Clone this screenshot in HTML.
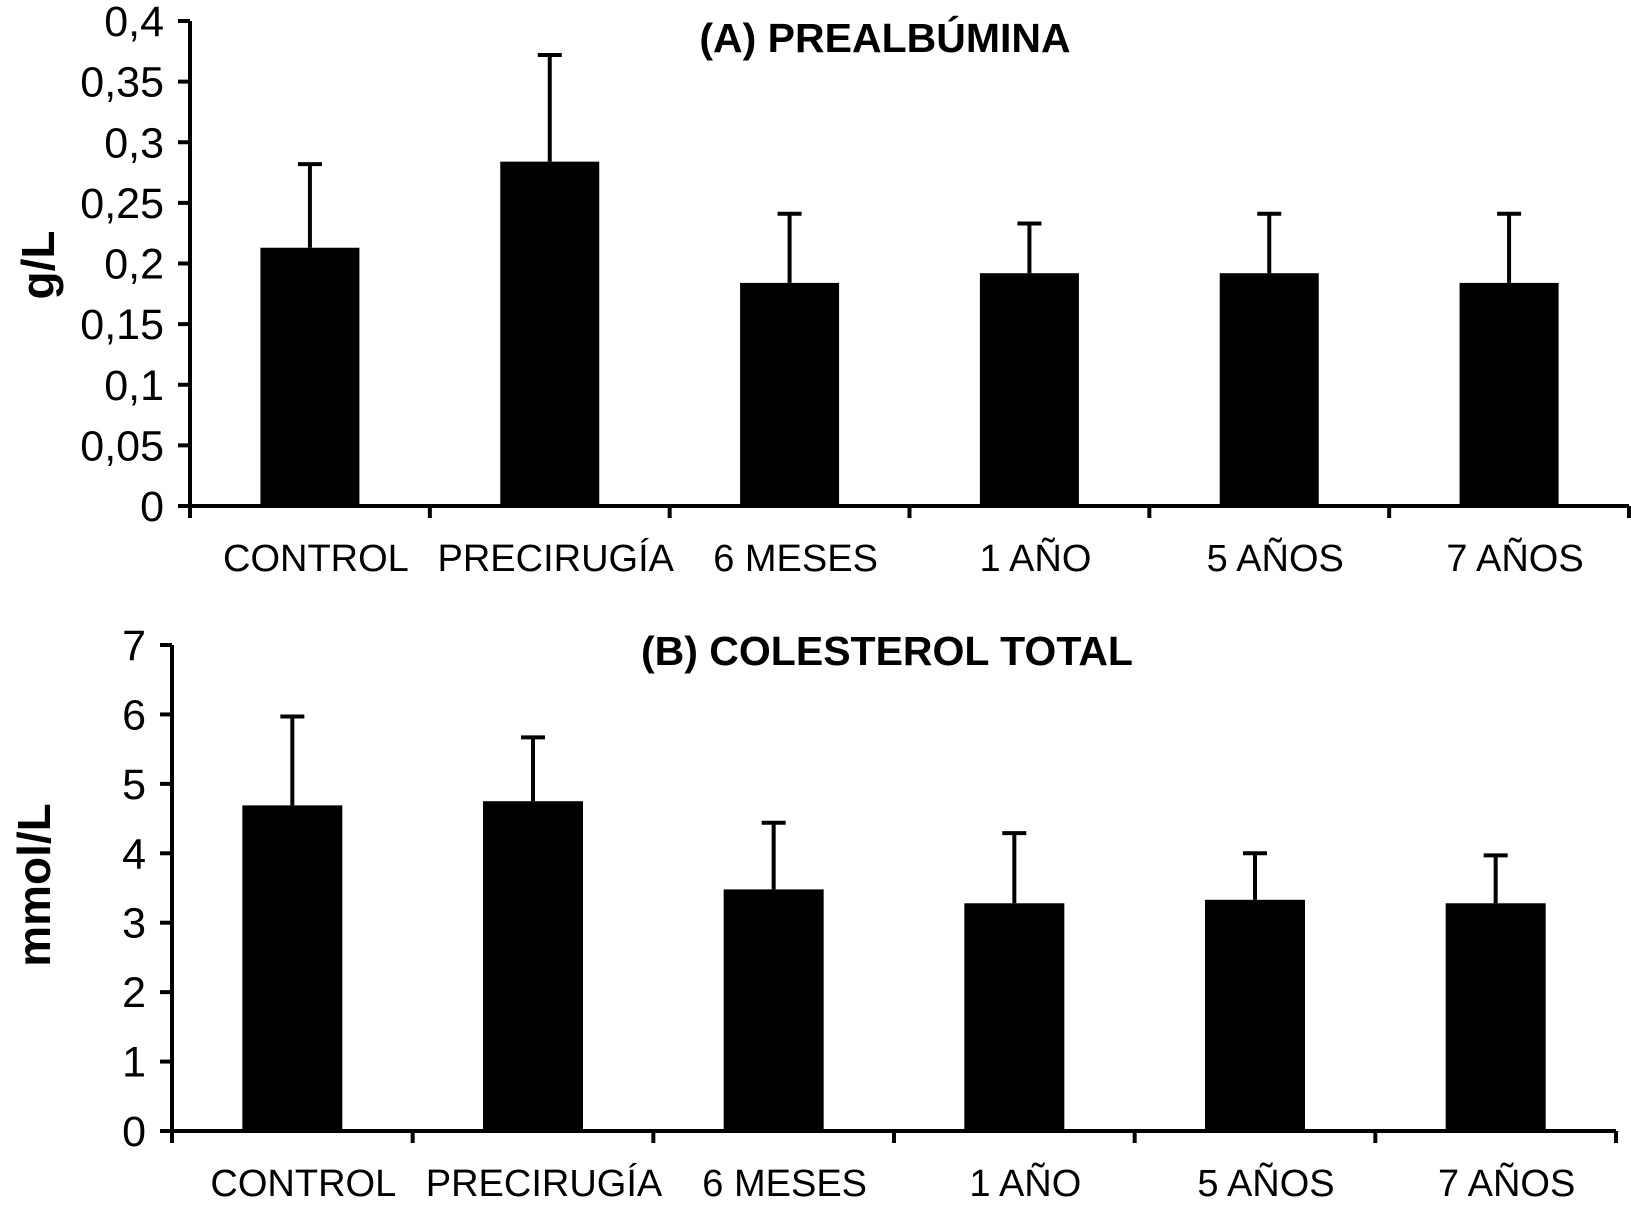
<!DOCTYPE html>
<html><head><meta charset="utf-8"><style>
html,body{margin:0;padding:0;background:#fff;}
svg text{font-family:"Liberation Sans",Arial,sans-serif;fill:#000;}
</style></head><body>
<svg id="c" width="1631" height="1212" xmlns="http://www.w3.org/2000/svg"></svg>
<script>
const categories = ["CONTROL","PRECIRUGÍA","6 MESES","1 AÑO","5 AÑOS","7 AÑOS"];
const prealbValues = [0.213,0.284,0.184,0.192,0.192,0.184];
const prealbErrTops = [0.282,0.372,0.241,0.233,0.241,0.241];
const prealbTicks = [0,0.05,0.1,0.15,0.2,0.25,0.3,0.35,0.4];
const prealbTickLabels = ["0","0,05","0,1","0,15","0,2","0,25","0,3","0,35","0,4"];
const colValues = [4.69,4.75,3.48,3.28,3.33,3.28];
const colErrTops = [5.97,5.67,4.44,4.29,4.00,3.97];
const colTicks = [0,1,2,3,4,5,6,7];
const colTickLabels = ["0","1","2","3","4","5","6","7"];

const svg = document.getElementById('c');
const NS = "http://www.w3.org/2000/svg";
function mk(tag, attrs, parent){const e=document.createElementNS(NS,tag);for(const k in attrs)e.setAttribute(k,attrs[k]);(parent||svg).appendChild(e);return e;}

function panel(p){
  const g = mk('g',{});
  
  
  const yScale = v => p.y0 - (v - p.vmin)/(p.vmax - p.vmin)*(p.y0 - p.y1);
  const catW = (p.x1 - p.x0)/categories.length;
  const xMid = i => p.x0 + catW*(i+0.5);
  categories.forEach((c,i)=>{
    const yt = yScale(p.values[i]);
    const r = mk('rect',{x:xMid(i)-p.bw/2,y:yt,width:p.bw,height:p.y0-yt,fill:'#000'},g);
    
    
    const ye = yScale(p.errs[i]);
    const e = mk('path',{d:`M${xMid(i)} ${yt} V${ye} M${xMid(i)-12} ${ye} H${xMid(i)+12}`,stroke:'#000','stroke-width':4,fill:'none'},g);
    
    
    const t = mk('text',{x:xMid(i)+p.labDx,y:p.labY,'font-size':38,'text-anchor':'middle'},g);
    t.textContent = c;
    
    
  });
  const ax = mk('path',{d:`M${p.x0} ${p.y1} V${p.y0+12} M${p.x0-12} ${p.y0} H${p.x1}`,stroke:'#000','stroke-width':4,fill:'none'},g);
  
  
  for(let i=1;i<=categories.length;i++){
    const xx = p.x0 + catW*i;
    const tk = mk('line',{x1:xx,y1:p.y0,x2:xx,y2:p.y0+12,stroke:'#000','stroke-width':4},g);
    
    
  }
  p.ticks.forEach((v,i)=>{
    const yy = yScale(v);
    const tk = mk('line',{x1:p.x0-12,y1:yy,x2:p.x0,y2:yy,stroke:'#000','stroke-width':4},g);
    
    
    const t = mk('text',{x:p.x0-26,y:yy+15,'font-size':43,'text-anchor':'end'},g);
    t.textContent = p.tickLabels[i];
    
    
  });
  const ti = mk('text',{x:p.titleX,y:p.titleY,'font-size':41,'font-weight':'bold','text-anchor':'middle'},g);
  ti.textContent = p.title;
  
  
  const yl = mk('text',{x:0,y:0,'font-size':46,'font-weight':'bold','text-anchor':'middle',transform:`translate(${p.ylX},${p.ylY}) rotate(-90)`},g);
  yl.textContent = p.ylabel;
  
  
}

panel({name:'panel-a-prealbumina',x0:190,x1:1629,y0:506,y1:21,vmin:0,vmax:0.4,bw:99,
  values:prealbValues,errs:prealbErrTops,ticks:prealbTicks,tickLabels:prealbTickLabels,
  labY:571,labDx:6,title:'(A) PREALBÚMINA',titleX:885,titleY:52,ylabel:'g/L',ylX:54,ylY:265});
panel({name:'panel-b-colesterol',x0:172,x1:1616,y0:1131,y1:645,vmin:0,vmax:7,bw:100,
  values:colValues,errs:colErrTops,ticks:colTicks,tickLabels:colTickLabels,
  labY:1196,labDx:11,title:'(B) COLESTEROL TOTAL',titleX:887,titleY:665,ylabel:'mmol/L',ylX:50,ylY:885});
</script>
</body></html>
